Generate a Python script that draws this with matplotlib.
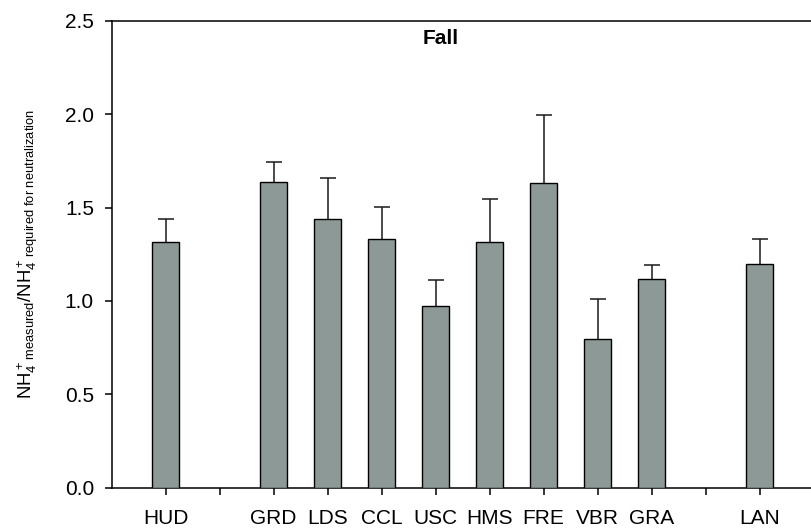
import numpy as np
import matplotlib
matplotlib.use("Agg")
import matplotlib.pyplot as plt

plt.rcParams['font.family'] = ['Liberation Sans', 'DejaVu Sans']
plt.rcParams['mathtext.fontset'] = 'custom'
plt.rcParams['mathtext.rm'] = 'Liberation Sans'
plt.rcParams['mathtext.it'] = 'Liberation Sans'
plt.rcParams['mathtext.bf'] = 'Liberation Sans:bold'

# Site ratios (fall) with upper standard errors
sites = ['HUD', 'GRD', 'LDS', 'CCL', 'USC', 'HMS', 'FRE', 'VBR', 'GRA', 'LAN']
positions = [1, 3, 4, 5, 6, 7, 8, 9, 10, 12]
ratio = [1.314, 1.638, 1.438, 1.331, 0.974, 1.317, 1.630, 0.796, 1.116, 1.197]
err = [0.124, 0.104, 0.218, 0.172, 0.138, 0.228, 0.363, 0.214, 0.074, 0.134]

tick_pos = list(range(1, 13))
tick_labels = ['HUD', '', 'GRD', 'LDS', 'CCL', 'USC', 'HMS', 'FRE', 'VBR', 'GRA', '', 'LAN']

fig = plt.figure(figsize=(8.11, 5.29), dpi=100)
ax = fig.add_axes([0.1377, 0.078, 0.8656, 0.8828])

ax.bar(positions, ratio, width=0.5, color='#8c9997', edgecolor='black',
       linewidth=1.0, zorder=3)
eb = ax.errorbar(positions, ratio, yerr=[np.zeros(len(err)), err], fmt='none',
                 ecolor='#1a1a1a', elinewidth=1.1, capsize=5.8, capthick=1.1, zorder=2)
# only the upper whisker gets a cap
caps = eb.lines[1]
caps[0].remove()

ax.set_xlim(0, 13)
ax.set_ylim(0, 2.5)
ax.set_xticks(tick_pos)
ax.set_xticklabels(tick_labels)
ax.set_yticks([0, 0.5, 1.0, 1.5, 2.0, 2.5])
ax.set_yticklabels(['0.0', '0.5', '1.0', '1.5', '2.0', '2.5'])

ax.tick_params(axis='x', direction='out', length=5.3, width=1.1, pad=10, labelsize=15)
ax.tick_params(axis='y', direction='out', length=4.8, width=1.1, pad=8, labelsize=15)

ax.spines['right'].set_visible(False)
for s in ['top', 'left', 'bottom']:
    ax.spines[s].set_linewidth(1.1)

ax.set_ylabel(r'NH$_4^+$$_{\mathrm{measured}}$/NH$_4^+$$_{\mathrm{required\ for\ neutralization}}$',
              fontsize=13.3)
ax.yaxis.set_label_coords(-0.102, 0.5)

ax.text(0.468, 0.963, 'Fall', transform=ax.transAxes, ha='center', va='center',
        fontsize=15, fontweight='bold')

fig.savefig('out.png', dpi=100)
